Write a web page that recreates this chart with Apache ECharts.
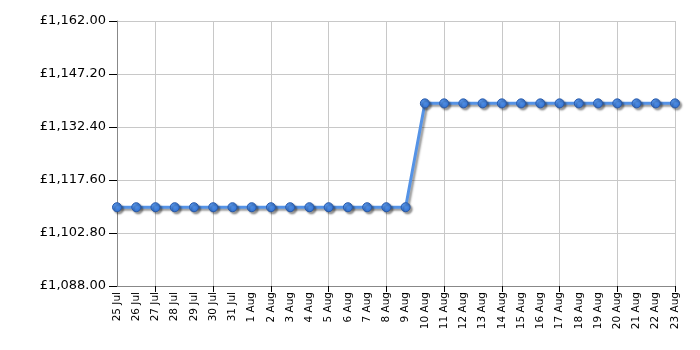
<!DOCTYPE html>
<html><head><meta charset="utf-8">
<script src="https://cdn.jsdelivr.net/npm/echarts@6/dist/echarts.min.js"></script>
<style>html,body{margin:0;padding:0;background:#fff}#c{width:700px;height:350px}</style>
</head><body><div id="c"></div>
<script>
const categories = ['25 Jul','26 Jul','27 Jul','28 Jul','29 Jul','30 Jul','31 Jul','1 Aug','2 Aug','3 Aug','4 Aug','5 Aug','6 Aug','7 Aug','8 Aug','9 Aug','10 Aug','11 Aug','12 Aug','13 Aug','14 Aug','15 Aug','16 Aug','17 Aug','18 Aug','19 Aug','20 Aug','21 Aug','22 Aug','23 Aug'];
const prices = [1110,1110,1110,1110,1110,1110,1110,1110,1110,1110,1110,1110,1110,1110,1110,1110,1139,1139,1139,1139,1139,1139,1139,1139,1139,1139,1139,1139,1139,1139];
const yBase = 1088;
const yTop = 1162;
const yStep = 14.8;

const fmt = v => '£' + (v + yBase).toLocaleString('en-GB', {minimumFractionDigits: 2, maximumFractionDigits: 2});
const chart = echarts.init(document.getElementById('c'));
chart.setOption({
  animation: false,
  grid: {left: 117, right: 25, top: 21, bottom: 64},
  xAxis: {
    type: 'category', data: categories, boundaryGap: false,
    axisLine: {lineStyle: {color: '#888', width: 1}},
    axisTick: {show: true, interval: (i) => i % 3 === 2, length: 6, lineStyle: {color: '#000'}},
    splitLine: {show: true, interval: (i) => i % 3 === 2, lineStyle: {color: '#c8c8c8'}},
    axisLabel: {rotate: 90, interval: 0, fontFamily: 'DejaVu Sans', fontSize: 10.5, color: '#000', margin: 6}
  },
  yAxis: {
    type: 'value', min: 0, max: yTop - yBase, interval: yStep,
    axisLine: {show: true, lineStyle: {color: '#888'}},
    axisTick: {show: true, length: 8, lineStyle: {color: '#000'}},
    splitLine: {lineStyle: {color: '#c8c8c8'}},
    axisLabel: {formatter: fmt, fontFamily: 'DejaVu Sans', fontSize: 13, color: '#000', margin: 11}
  },
  series: [{
    type: 'line',
    data: prices.map(p => p - yBase),
    symbol: 'circle', symbolSize: 9,
    lineStyle: {color: '#5593e6', width: 3, shadowColor: 'rgba(0,0,0,0.4)', shadowOffsetX: 2, shadowOffsetY: 2, shadowBlur: 2},
    itemStyle: {
      color: new echarts.graphic.RadialGradient(0.4, 0.35, 0.7, [{offset: 0, color: '#5a9af0'}, {offset: 1, color: '#2f6fcf'}]),
      borderColor: '#2a5aa8', borderWidth: 1, shadowColor: 'rgba(0,0,0,0.4)', shadowOffsetX: 2, shadowOffsetY: 2, shadowBlur: 2
    }
  }]
});
</script></body></html>
